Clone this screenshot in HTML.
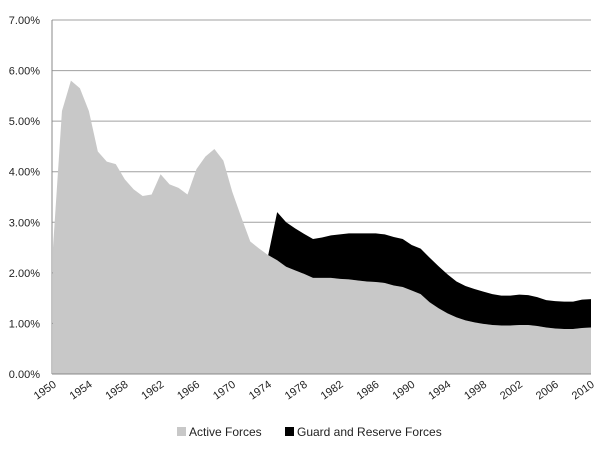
<!DOCTYPE html>
<html><head><meta charset="utf-8"><style>
body{margin:0;background:#fff;}
svg text{font-family:"Liberation Sans",sans-serif;fill:#222;}
</style></head><body>
<svg id="chart" width="600" height="446" xmlns="http://www.w3.org/2000/svg">
<g id="grid"></g><g id="areas"></g><g id="axes"></g><g id="legend"></g>
</svg>
<script>
const years = [];
for (let y = 1950; y <= 2010; y++) years.push(y);
const active = [2.5,5.2,5.8,5.65,5.2,4.4,4.2,4.15,3.85,3.65,3.52,3.55,3.95,3.75,3.68,3.55,4.05,4.3,4.45,4.22,3.6,3.1,2.62,2.48,2.35,2.25,2.12,2.05,1.98,1.9,1.9,1.9,1.88,1.87,1.85,1.83,1.82,1.8,1.75,1.72,1.65,1.58,1.42,1.3,1.2,1.12,1.06,1.02,0.99,0.97,0.96,0.96,0.97,0.97,0.95,0.92,0.9,0.89,0.89,0.91,0.92];
const guardStartYear = 1974;
const guard = [0,0.95,0.88,0.83,0.79,0.77,0.8,0.84,0.88,0.91,0.93,0.95,0.96,0.96,0.96,0.95,0.9,0.9,0.88,0.83,0.77,0.71,0.68,0.66,0.64,0.61,0.59,0.59,0.6,0.59,0.57,0.54,0.54,0.54,0.54,0.56,0.56];
const yTicks = [0,1,2,3,4,5,6,7];
const xTickYears = [1950,1954,1958,1962,1966,1970,1974,1978,1982,1986,1990,1994,1998,2002,2006,2010];

const NS = "http://www.w3.org/2000/svg";
const L = 52, R = 591, T = 20, B = 374;
const xS = y => L + 1 + (y - 1950) * (R - L - 1) / 60;
const yS = v => B - v * (B - T) / 7;
function mk(tag, attrs, parent) {
  const e = document.createElementNS(NS, tag);
  for (const k in attrs) e.setAttribute(k, attrs[k]);
  parent.appendChild(e); return e;
}
const gridG = document.getElementById('grid'), areasG = document.getElementById('areas'), axesG = document.getElementById('axes'), legendG = document.getElementById('legend');
yTicks.forEach(v => {
  const ln = mk('line', {x1: L, x2: R, y1: yS(v), y2: yS(v), stroke: '#a0a0a0', 'stroke-width': 1}, gridG);
  
  
  const t = mk('text', {x: 40, y: yS(v) + 4, 'text-anchor': 'end', 'font-size': 11}, axesG);
  t.textContent = v.toFixed(2) + '%';
  
  
});
let dA = 'M' + xS(years[0]) + ',' + yS(0);
years.forEach((y, i) => { dA += ' L' + xS(y) + ',' + yS(active[i]); });
dA += ' L' + xS(years[years.length - 1]) + ',' + yS(0) + ' Z';
const pa = mk('path', {d: dA, fill: '#c8c8c8'}, areasG);


const gi0 = years.indexOf(guardStartYear);
const upperPts = [], lowerPts = [];
guard.forEach((g, j) => {
  const i = gi0 + j, x = xS(years[i]);
  upperPts.push(x + ',' + yS(active[i] + g));
  lowerPts.unshift(x + ',' + yS(active[i]));
});
const pg = mk('path', {d: 'M' + upperPts.join(' L') + ' L' + lowerPts.join(' L') + ' Z', fill: '#000'}, areasG);


const ya = mk('line', {x1: L, x2: L, y1: T, y2: B, stroke: '#888'}, axesG);


const xa = mk('line', {x1: L, x2: R, y1: B, y2: B, stroke: '#888'}, axesG);


xTickYears.forEach(y => {
  const x = xS(y) + 4, yy = B + 12;
  const t = mk('text', {x: x, y: yy, 'text-anchor': 'end', 'font-size': 11, transform: 'rotate(-35 ' + x + ' ' + yy + ')'}, axesG);
  t.textContent = y;
  
  
});
const items = [['Active Forces', '#c8c8c8', 177], ['Guard and Reserve Forces', '#000', 285]];
items.forEach(([lab, col, x]) => {
  const r = mk('rect', {x: x, y: 427, width: 9, height: 9, fill: col}, legendG);
  
  
  const t = mk('text', {x: x + 12, y: 436, 'font-size': 12}, legendG);
  t.textContent = lab;
  
  
});
</script>
</body></html>
